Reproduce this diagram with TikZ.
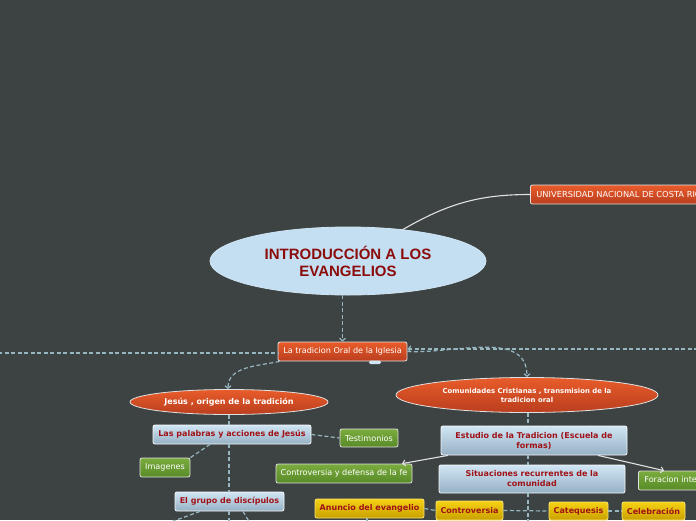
\documentclass[tikz,border=0pt]{standalone}
\usepackage{fontspec}
\setmainfont{DejaVu Sans}
\newfontfamily\titlefont{Liberation Sans}
\usetikzlibrary{shapes.geometric,arrows.meta}
\definecolor{bg}{RGB}{61,67,67}
\definecolor{titlefill}{RGB}{196,223,241}
\definecolor{titlered}{RGB}{140,12,12}
\definecolor{labelred}{RGB}{160,18,24}
\definecolor{orA}{RGB}{232,92,42}
\definecolor{orB}{RGB}{186,62,30}
\definecolor{grA}{RGB}{122,172,62}
\definecolor{grB}{RGB}{88,138,40}
\definecolor{yeA}{RGB}{246,210,20}
\definecolor{yeB}{RGB}{200,160,0}
\definecolor{blA}{RGB}{208,230,244}
\definecolor{blB}{RGB}{150,176,196}
\definecolor{dashc}{RGB}{150,182,192}
\definecolor{lightedge}{RGB}{225,225,225}
\begin{document}
\begin{tikzpicture}[x=1pt,y=-1pt,
  basebox/.style={rectangle, rounded corners=2pt, inner sep=0pt, line width=0.8pt, minimum height=19},
  orangebox/.style={basebox, top color=orA, bottom color=orB, draw=lightedge, text=white, font=\fontsize{8.1}{10}\selectfont},
  greenbox/.style={basebox, top color=grA, bottom color=grB, draw=lightedge, text=white, font=\fontsize{8.1}{10}\selectfont},
  bluebox/.style={basebox, top color=blA, bottom color=blB, draw=white!85!blA, text=labelred, font=\bfseries\fontsize{8}{10}\selectfont, align=center},
  yellowbox/.style={basebox, top color=yeA, bottom color=yeB, draw=yeA!60!white, text=labelred, font=\bfseries\fontsize{8}{10}\selectfont},
  orangeell/.style={ellipse, inner sep=0pt, top color=orA, bottom color=orB, draw=lightedge, line width=0.8pt, text=white, align=center},
  titleell/.style={ellipse, inner sep=0pt, fill=titlefill, draw=titlefill!80!white, line width=0.8pt, text=titlered, align=center, font=\titlefont\bfseries\fontsize{15}{17}\selectfont},
  dashlink/.style={draw=dashc, line width=1.2pt, dash pattern=on 4pt off 2.5pt},
  solidlink/.style={draw=lightedge, line width=1.1pt},
  tip/.style={-{Straight Barb[length=2.6pt,width=6pt]}}
]
\useasboundingbox (0,0) rectangle (696,520);
\clip (0,0) rectangle (696,520);
\fill[bg] (0,0) rectangle (696,520);

% nodes
\node[titleell, minimum width=276, minimum height=68] (title) at (348,261) {INTRODUCCIÓN A LOS\\EVANGELIOS};
\node[orangebox, anchor=west, inner xsep=6pt, font=\fontsize{8.3}{10}\selectfont] (uni) at (530,194.5) {UNIVERSIDAD NACIONAL DE COSTA RICA};
\node[orangebox, minimum width=129] (oral) at (342.5,351.5) {La tradicion Oral de la Iglesia};
\node[orangeell, minimum width=198, minimum height=25, font=\bfseries\fontsize{8}{10}\selectfont] (jesus) at (229,402) {Jesús , origen de la tradición};
\node[orangeell, minimum width=262, minimum height=35, font=\bfseries\fontsize{6.9}{9}\selectfont] (comun) at (527,395) {Comunidades Cristianas , transmision de la\\tradicion oral};
\node[bluebox, minimum width=158] (palabras) at (232,434.5) {Las palabras y acciones de Jesús};
\node[greenbox, minimum width=58, minimum height=18] (testim) at (369,438) {Testimonios};
\node[greenbox, minimum width=50] (imag) at (165,467.5) {Imagenes};
\node[bluebox, minimum width=109] (grupo) at (229.5,501.5) {El grupo de discípulos};
\node[bluebox, minimum width=186, minimum height=29] (estudio) at (534,440.5) {Estudio de la Tradicion (Escuela de\\formas)};
\node[greenbox, minimum width=136] (contfe) at (344,473.5) {Controversia y defensa de la fe};
\node[greenbox, anchor=west, inner xsep=6pt] (forac) at (638,480.5) {Foracion integral};
\node[bluebox, minimum width=186, minimum height=28] (situ) at (532,479) {Situaciones recurrentes de la\\comunidad};
\node[yellowbox, minimum width=109] (anuncio) at (369.5,508.5) {Anuncio del evangelio};
\node[yellowbox, minimum width=67] (controv) at (469.5,510.5) {Controversia};
\node[yellowbox, minimum width=59, minimum height=18] (catq) at (578.5,511) {Catequesis};
\node[yellowbox, minimum width=63, minimum height=18] (celeb) at (653.5,511) {Celebración};

% free ends
\coordinate (leftend) at (-2,353);
\coordinate (rightend) at (698,349);
\coordinate (trunkA) at (229,524);
\coordinate (grupoL) at (168,523);
\coordinate (grupoR) at (250,523);
\coordinate (trunkB) at (528,524);
\coordinate (anuncioEnd) at (367,524);
\coordinate (titleTop) at ([shift={(54,-31)}]title.center);

% connectors
\draw[solidlink] (titleTop) to[out=30,in=180] (uni.west);
\draw[dashlink, tip] (oral.north |- title.south) -- (oral.north);
\draw[dashlink] (leftend) -- (oral.west |- leftend);
\draw[dashlink, tip] (rightend) -- (oral.east |- rightend);
\draw[dashlink, tip] ([xshift=2pt]oral.south west) to[out=192,in=90] (jesus.north -| 228,0);
\draw[dashlink, tip] (oral.east) to[out=-3,in=90] (comun.north);
\draw[dashlink] (jesus.south -| 229,0) -- (palabras.north -| 229,0);
\draw[dashlink] (palabras.south -| 229,0) -- (grupo.north -| 229,0);
\draw[dashlink] (grupo.south -| 229,0) -- (trunkA);
\draw[dashlink] (palabras.east) -- (testim.west);
\draw[dashlink] (palabras.south -| 210,0) -- (imag.north east);
\draw[dashlink] (grupo.south -| 200,0) -- (grupoL);
\draw[dashlink] (grupo.south -| 243,0) -- (grupoR);
\draw[dashlink] (comun.south -| 528,0) -- (estudio.north -| 528,0);
\draw[dashlink] (estudio.south -| 528,0) -- (situ.north -| 528,0);
\draw[dashlink] (situ.south -| 528,0) -- (trunkB);
\draw[solidlink, tip] (estudio.south -| 448,0) -- (contfe.north -| 402,0);
\draw[solidlink, tip] (estudio.south -| 598,0) -- (forac.north -| 664,0);
\draw[dashlink] (anuncio.east) -- (controv.west);
\draw[dashlink] (controv.east) -- (catq.west);
\draw[dashlink] (catq.east) -- (celeb.west);
\draw[dashlink] (anuncio.south -| 367,0) -- (anuncioEnd);

% collapse tab under the oral node
\fill[blA, rounded corners=1.5pt] (369,360.5) rectangle (381,364);
\end{tikzpicture}
\end{document}
